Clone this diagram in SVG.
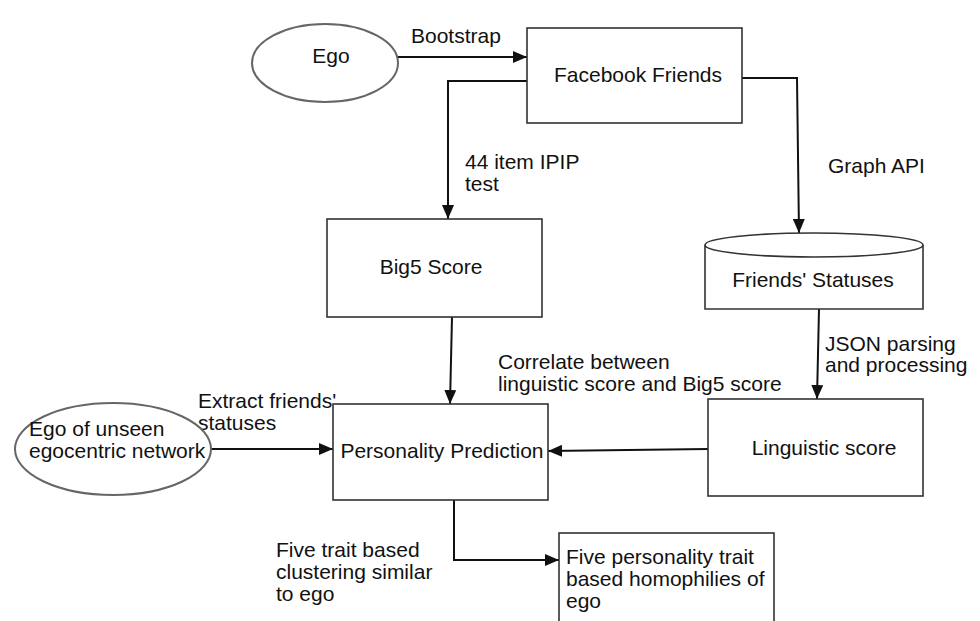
<svg xmlns="http://www.w3.org/2000/svg" width="980" height="621" viewBox="0 0 980 621">
<style>
text{font-family:"Liberation Sans",Arial,sans-serif;font-size:21px;fill:#111}
.c{text-anchor:middle}
.box{fill:#fff;stroke:#333;stroke-width:1.6}
.ell{fill:#fff;stroke:#666;stroke-width:2}
.ln{fill:none;stroke:#111;stroke-width:2}
</style>
<defs>
<marker id="ah" viewBox="0 0 14 12" refX="14" refY="6" markerWidth="14" markerHeight="12" markerUnits="userSpaceOnUse" orient="auto">
<path d="M0,0 L14,6 L0,12 Z" fill="#111"/>
</marker>
</defs>
<rect width="980" height="621" fill="#fff"/>
<g id="connectors">
<line class="ln" x1="398" y1="57" x2="527" y2="57" marker-end="url(#ah)"/>
<polyline class="ln" points="527,81 448,81 448,219" marker-end="url(#ah)"/>
<polyline class="ln" points="742,78 797,78 799,233" marker-end="url(#ah)"/>
<line class="ln" x1="452" y1="317" x2="450" y2="404" marker-end="url(#ah)"/>
<line class="ln" x1="819" y1="309" x2="817" y2="399" marker-end="url(#ah)"/>
<line class="ln" x1="708" y1="449" x2="548" y2="451" marker-end="url(#ah)"/>
<line class="ln" x1="211" y1="449" x2="333" y2="449" marker-end="url(#ah)"/>
<polyline class="ln" points="454,500 454,560 559,560" marker-end="url(#ah)"/>
<text x="411" y="43">Bootstrap</text>
<text x="465" y="169">44 item IPIP</text>
<text x="465" y="191">test</text>
<text x="828" y="173">Graph API</text>
<text x="825" y="351">JSON parsing</text>
<text x="825" y="372">and processing</text>
<text x="498" y="369">Correlate between</text>
<text x="498" y="391">linguistic score and Big5 score</text>
<text x="198" y="408">Extract friends'</text>
<text x="198" y="430">statuses</text>
<text x="276" y="557">Five trait based</text>
<text x="276" y="579">clustering similar</text>
<text x="276" y="601">to ego</text>
</g>
<g id="ego">
<ellipse class="ell" cx="325" cy="63" rx="73" ry="39"/>
<text class="c" x="331" y="63">Ego</text>
</g>
<g id="facebook-friends">
<rect class="box" x="527" y="28" width="215" height="95"/>
<text class="c" x="638" y="82">Facebook Friends</text>
</g>
<g id="big5-score">
<rect class="box" x="327" y="219" width="215" height="98"/>
<text class="c" x="431" y="274">Big5 Score</text>
</g>
<g id="friends-statuses">
<path class="box" d="M705,245 L705,309 L923,309 L923,245"/>
<ellipse class="box" cx="814" cy="245" rx="109" ry="12"/>
<text class="c" x="813" y="287">Friends' Statuses</text>
</g>
<g id="linguistic-score">
<rect class="box" x="708" y="399" width="215" height="97"/>
<text class="c" x="824" y="455">Linguistic score</text>
</g>
<g id="personality-prediction">
<rect class="box" x="333" y="404" width="215" height="96"/>
<text class="c" x="442" y="458">Personality Prediction</text>
</g>
<g id="ego-unseen">
<ellipse class="ell" cx="113" cy="449" rx="98" ry="46" stroke-width="2.5"/>
<text x="29" y="436">Ego of unseen</text>
<text x="29" y="458">egocentric network</text>
</g>
<g id="homophilies">
<rect class="box" x="559" y="533" width="215" height="100"/>
<text x="566" y="564">Five personality trait</text>
<text x="566" y="586">based homophilies of</text>
<text x="566" y="608">ego</text>
</g>
</svg>
